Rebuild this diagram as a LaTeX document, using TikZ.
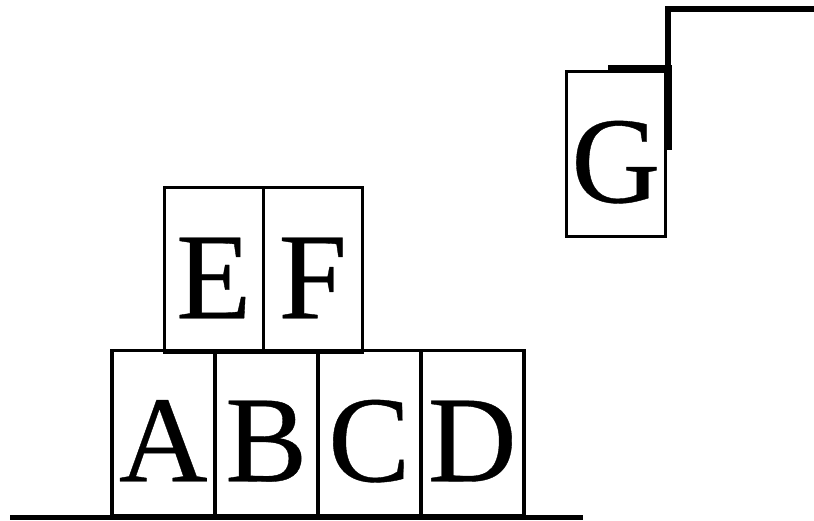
\documentclass[tikz,border=0pt]{standalone}
\usepackage{fontspec}
\setmainfont{Liberation Serif}
\newfontfamily\blkfont[FakeBold=0.3]{Liberation Serif}
\begin{document}
\begin{tikzpicture}[x=1pt,y=-1pt,
  blk/.style={draw, line width=3.5pt, inner sep=0pt, minimum width=#1,
    minimum height=165pt, text height=131pt, text depth=34pt,
    font=\blkfont\fontsize{123}{123}\selectfont, anchor=south west},
  blk/.default=101pt,
  ground/.style={line width=5pt},
  arm/.style={line width=5.5pt},
  finger/.style={line width=7pt}]
\useasboundingbox (0,0) rectangle (814,520);
% bottom row
\node[blk=103pt] (A) at (110,517) {A};
\node[blk=103pt] (B) at (213,517) {B};
\node[blk=103pt] (C) at (316,517) {C};
\node[blk=103pt] (D) at (419,517) {D};
% top row
\node[blk=99pt] (E) at (162.5,354) {E};
\node[blk=99pt] (F) at (261.5,354) {F};
% held block
\node[blk=99pt] (G) at (564.5,238) {G};
% ground
\coordinate (g0) at (10,517.5);
\coordinate (g1) at (583,517.5);
\draw[ground] (g0) -- (g1);
% gripper
\coordinate (arm0) at (814,9);
\coordinate (arm1) at (668,9);
\coordinate (arm2) at (668,68);
\coordinate (fing0) at (608,68);
\coordinate (fing1) at (668,150);
\draw[arm] (arm0) -- (arm1) -- (arm2);
\draw[finger] (fing0) -- (arm2) -- (fing1);
\end{tikzpicture}
\end{document}
